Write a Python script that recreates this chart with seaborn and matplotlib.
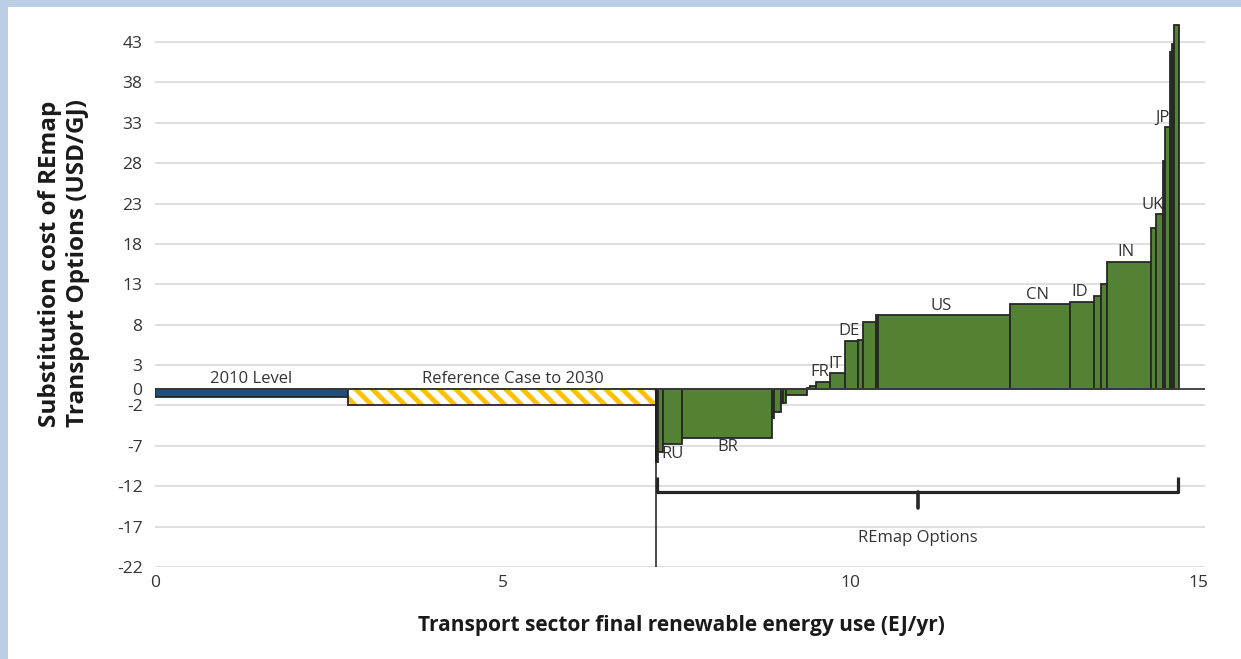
import numpy as np
import pandas as pd
import matplotlib
matplotlib.use('Agg')
import matplotlib.pyplot as plt
from matplotlib.patches import Rectangle
import seaborn as sns

# Baseline blocks
base_labels = ['2010 Level', 'Reference Case to 2030']
base_widths = [2.776, 4.430]
base_costs = [-1.0, -2.0]

# REmap options (width in EJ/yr, substitution cost in USD/GJ)
remap_widths = [0.033, 0.063, 0.282, 1.294, 0.025, 0.100, 0.033, 0.035, 0.302, 0.047,
                0.086, 0.202, 0.216, 0.182, 0.072, 0.187, 0.038, 1.894, 0.862, 0.346,
                0.100, 0.082, 0.633, 0.072, 0.110, 0.024, 0.072, 0.025, 0.033, 0.072]
remap_costs = [-9.0, -7.7, -6.8, -6.0, -3.5, -2.8, -1.7, -1.7, -0.7, 0.2,
               0.45, 0.95, 2.0, 6.0, 6.1, 8.3, 9.2, 9.2, 10.55, 10.85,
               11.5, 13.1, 15.8, 20.0, 21.7, 28.3, 32.5, 41.8, 42.8, 45.1]
country_labels = {2: 'RU', 3: 'BR', 11: 'FR', 12: 'IT', 13: 'DE', 17: 'US',
                  18: 'CN', 19: 'ID', 22: 'IN', 24: 'UK', 26: 'JP'}

y_ticks = [43, 38, 33, 28, 23, 18, 13, 8, 3, 0, -2, -7, -12, -17, -22]
x_ticks = [0, 5, 10, 15]

green = '#538234'
blue = '#1f4e79'
yellow = '#ffc000'
edge = '#262626'
txt = '#333333'

sns.set_style('white')
plt.rcParams['font.family'] = ['Open Sans', 'DejaVu Sans']
plt.rcParams['hatch.linewidth'] = 3.5
plt.rcParams['axes.unicode_minus'] = False

# positions
base_left = np.concatenate([[0], np.cumsum(base_widths)[:-1]])
remap_start = sum(base_widths)
remap_edges = remap_start + np.concatenate([[0], np.cumsum(remap_widths)])
df = pd.DataFrame({'left': remap_edges[:-1], 'width': remap_widths, 'cost': remap_costs})
df['mid'] = df['left'] + df['width'] / 2

fig = plt.figure(figsize=(12.41, 6.59), dpi=100, facecolor='#bccde6')
fig.add_artist(Rectangle((8 / 1241, 0), 1, 1 - 7 / 659, transform=fig.transFigure,
                         facecolor='white', edgecolor='none', zorder=-10))
ax = fig.add_axes([0.1249, 0.1396, 0.8461, 0.8273])
ax.set_facecolor('white')

# baseline bars
ax.bar(base_left[0], base_costs[0], width=base_widths[0], align='edge',
       color=blue, edgecolor=edge, linewidth=1.3, zorder=3)
ax.bar(base_left[1], base_costs[1], width=base_widths[1], align='edge',
       color='white', edgecolor=yellow, hatch='\\\\', linewidth=0, zorder=3)
ax.bar(base_left[1], base_costs[1], width=base_widths[1], align='edge',
       fill=False, edgecolor=edge, linewidth=1.3, zorder=3)

# REmap cost curve
sns.histplot(data=df, x='mid', weights='cost', bins=list(remap_edges), stat='count',
             element='bars', fill=True, alpha=1, facecolor=green, edgecolor=edge,
             linewidth=1.3, ax=ax, zorder=3)

ax.axhline(0, color='#3a3a3a', lw=1.3, zorder=4)
ax.vlines(remap_start, -22, 0, color='#1a1a1a', lw=1.1, zorder=4)

ax.set_xlim(0, 15.1)
ax.set_ylim(-22, 45.5)
ax.set_yticks(y_ticks)
ax.set_xticks(x_ticks)
ax.grid(axis='y', color='#d9d9d9', lw=1.2)
ax.grid(axis='x', visible=False)
ax.set_axisbelow(True)
sns.despine(ax=ax, left=True, bottom=True)
ax.tick_params(axis='both', length=0, labelsize=12.5, colors=txt)
ax.tick_params(axis='y', pad=9)
ax.tick_params(axis='x', pad=6)
ax.set_xlabel('')
ax.set_ylabel('')

# labels on bars
for i, lab in enumerate(base_labels):
    ax.annotate(lab, (base_left[i] + base_widths[i] / 2, 0), xytext=(0 if i == 0 else 8, 2),
                textcoords='offset points', ha='center', va='bottom', fontsize=12, color=txt)

for i, lab in country_labels.items():
    row = df.iloc[i]
    if row['cost'] < 0:
        ax.annotate(lab, (row['mid'], row['cost']), xytext=(0, -1),
                    textcoords='offset points', ha='center', va='top', fontsize=12, color=txt)
    elif lab in ('UK', 'JP'):
        ax.annotate(lab, (row['left'] + row['width'], row['cost']), xytext=(0, 1),
                    textcoords='offset points', ha='right', va='bottom', fontsize=12, color=txt)
    else:
        ax.annotate(lab, (row['mid'], row['cost']), xytext=(-2, 1),
                    textcoords='offset points', ha='center', va='bottom', fontsize=12, color=txt)

# brace under REmap options
b0 = remap_start + 0.02
b1 = remap_edges[-1] - 0.02
bm = (b0 + b1) / 2
ax.plot([b0, b0, b1, b1], [-10.9, -12.7, -12.7, -10.9], color=edge, lw=2.3,
        solid_joinstyle='round', solid_capstyle='butt', zorder=5)
ax.plot([bm, bm], [-12.7, -14.7], color=edge, lw=2.6, zorder=5)
ax.text(bm, -18.4, 'REmap Options', ha='center', va='center', fontsize=12, color=txt)

fig.text(681 / 1241, 1 - 626 / 659, 'Transport sector final renewable energy use (EJ/yr)',
         ha='center', va='center', fontsize=15, fontweight='bold', color='#1a1a1a')
fig.text(64 / 1241, 1 - 263 / 659, 'Substitution cost of REmap\nTransport Options (USD/GJ)',
         ha='center', va='center', rotation=90, multialignment='left',
         fontsize=17.5, fontweight='bold', color='#1a1a1a', linespacing=1.2)

fig.savefig('out.png', dpi=100, facecolor=fig.get_facecolor())
